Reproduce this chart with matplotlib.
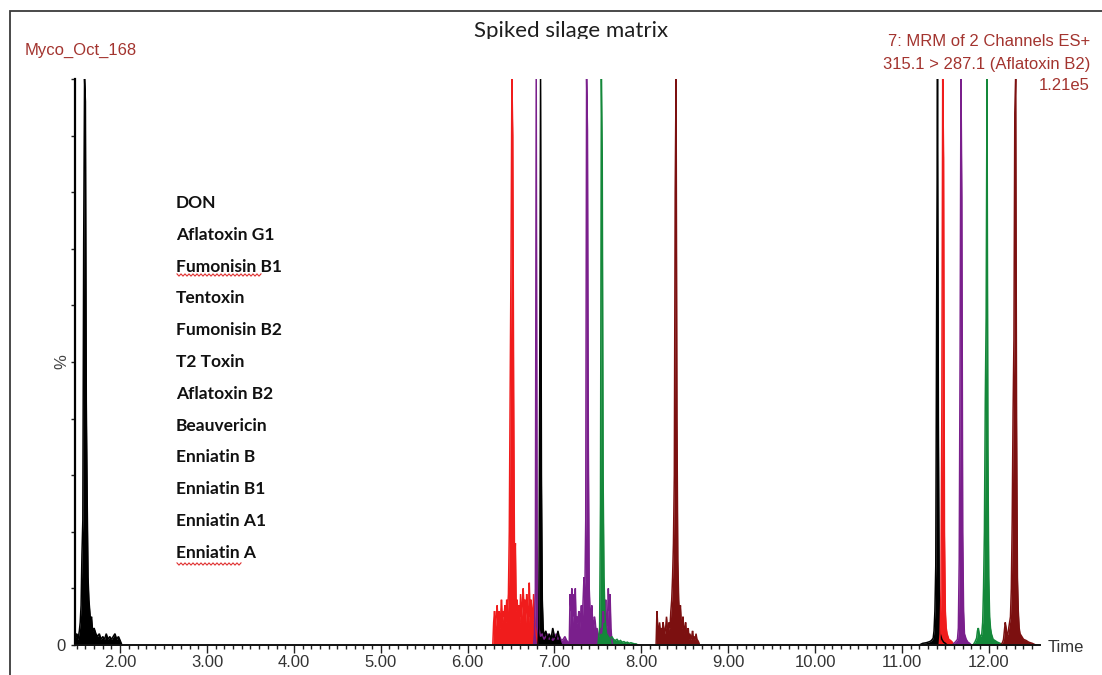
import matplotlib
matplotlib.use("Agg")
import matplotlib.pyplot as plt
from matplotlib.patches import Rectangle
from matplotlib.lines import Line2D
from matplotlib.ticker import MultipleLocator
from matplotlib.transforms import Bbox
import numpy as np

# ---- data (time in min, intensity in %) ----
compounds = ["DON", "Aflatoxin G1", "Fumonisin B1", "Tentoxin", "Fumonisin B2",
             "T2 Toxin", "Aflatoxin B2", "Beauvericin", "Enniatin B",
             "Enniatin B1", "Enniatin A1", "Enniatin A"]
trace_colors = ["#000000", "#f01c1c", "#7a1f8c", "#000000", "#7a1f8c", "#14883a",
                "#7c1010", "#000000", "#f01c1c", "#7a1f8c", "#14883a", "#7c1010"]

don_t = [1.48, 1.49, 1.50, 1.51, 1.52, 1.53, 1.54, 1.55, 1.56, 1.57, 1.58, 1.59,
         1.60, 1.61, 1.62, 1.63, 1.64, 1.65, 1.66, 1.67, 1.68, 1.69, 1.70, 1.72,
         1.74, 1.76, 1.78, 1.80, 1.82, 1.84, 1.86, 1.88, 1.90, 1.92, 1.94, 1.96,
         1.98, 2.00, 2.02]
don_y = [1.0, 1.5, 2.0, 1.0, 1.5, 2.5, 4.0, 7.0, 16, 22, 71, 100, 96, 43, 26, 12,
         8, 6, 4, 5, 3, 2.5, 3, 2, 1.5, 2, 1, 1.5, 1, 2, 1, 1.5, 1, 1.5, 2, 1, 1.5,
         0.8, 0]

afg1_t = [6.29, 6.30, 6.31, 6.32, 6.33, 6.34, 6.35, 6.36, 6.37, 6.38, 6.39, 6.40,
          6.41, 6.42, 6.43, 6.44, 6.45, 6.46, 6.47, 6.48, 6.49, 6.50, 6.51, 6.52,
          6.53, 6.54, 6.55, 6.56, 6.57, 6.58, 6.59, 6.60, 6.61, 6.62, 6.63, 6.64,
          6.65, 6.66, 6.67, 6.68, 6.69, 6.70, 6.71, 6.72, 6.73, 6.74, 6.75, 6.76,
          6.77, 6.78, 6.79, 6.80, 6.81]
afg1_y = [0, 4, 6, 3, 5, 7, 4, 6, 3, 5, 8, 4, 6, 5, 7, 4, 8, 6, 9, 20, 45, 68, 100,
          90, 45, 14, 18, 6, 8, 5, 7, 4, 9, 5, 7, 10, 6, 8, 4, 9, 6, 3, 11, 5, 8, 6,
          4, 9, 5, 3, 2, 1, 0]

fb1_t = [6.76, 6.77, 6.78, 6.79, 6.80, 6.81, 6.82, 6.84, 6.86, 6.88, 6.90, 6.92,
         6.94, 6.96, 6.98, 7.00, 7.02, 7.04, 7.06, 7.08, 7.10, 7.12, 7.14, 7.16, 7.18]
fb1_y = [0, 2, 10, 100, 18, 5, 3, 1.5, 2, 1, 1.5, 2, 1, 1.5, 0.8, 1.2, 2, 1, 1.5,
         0.8, 1, 1.5, 0.8, 0.5, 0]

ten_t = [6.81, 6.82, 6.83, 6.84, 6.85, 6.86, 6.87, 6.88, 6.90, 6.92, 6.94, 6.96,
         6.98, 7.00, 7.02, 7.04, 7.06, 7.08]
ten_y = [0, 3, 45, 100, 30, 8, 3, 1.5, 2.5, 1, 2, 1, 3, 1.5, 1, 2.5, 1, 0]

fb2_t = [7.17, 7.18, 7.19, 7.20, 7.21, 7.22, 7.23, 7.24, 7.25, 7.26, 7.27, 7.28,
         7.29, 7.30, 7.31, 7.32, 7.33, 7.34, 7.35, 7.36, 7.37, 7.38, 7.39, 7.40,
         7.41, 7.42, 7.43, 7.44, 7.45, 7.46, 7.47, 7.48, 7.49, 7.50, 7.51, 7.52,
         7.53, 7.54, 7.55, 7.56, 7.57, 7.58, 7.59, 7.60, 7.61, 7.62, 7.63, 7.64,
         7.65, 7.66, 7.67]
fb2_y = [0, 9, 6, 10, 4, 9, 5, 10, 3, 5, 4, 6, 3, 5, 7, 4, 8, 12, 9, 22, 100, 91,
         35, 10, 6, 5, 7, 4, 3, 5, 4, 2, 3, 2, 1.5, 2, 3, 2, 3, 6, 4, 5, 8, 3, 4,
         10, 6, 9, 3, 1, 0]

t2_t = [7.50, 7.51, 7.52, 7.53, 7.54, 7.55, 7.56, 7.57, 7.58, 7.59, 7.60, 7.62,
        7.64, 7.66, 7.68, 7.70, 7.72, 7.74, 7.76, 7.78, 7.80, 7.82, 7.84, 7.86,
        7.88, 7.90, 7.92, 7.94, 7.96]
t2_y = [0, 1.5, 3, 25, 100, 86, 30, 12, 6, 3, 2, 1.5, 1, 1.5, 1, 0.8, 1, 0.6, 0.8,
        0.5, 0.6, 0.4, 0.5, 0.3, 0.4, 0.3, 0.2, 0.2, 0]

afb2_t = [8.17, 8.18, 8.19, 8.20, 8.21, 8.22, 8.23, 8.24, 8.25, 8.26, 8.27, 8.28,
          8.29, 8.30, 8.31, 8.32, 8.33, 8.34, 8.35, 8.36, 8.37, 8.38, 8.39, 8.40,
          8.41, 8.42, 8.43, 8.44, 8.45, 8.46, 8.47, 8.48, 8.49, 8.50, 8.51, 8.52,
          8.53, 8.54, 8.55, 8.56, 8.57, 8.58, 8.59, 8.60, 8.61, 8.62, 8.63, 8.64,
          8.65, 8.66, 8.67]
afb2_y = [0, 6, 3, 2, 4, 2, 3, 2, 4, 3, 2, 3, 5, 3, 2, 4, 3, 6, 8, 12, 18, 30, 80,
          100, 40, 15, 8, 5, 7, 4, 3, 5, 2, 3, 4, 2, 1.5, 3, 1, 2, 1, 1.5, 2.5, 1,
          1.5, 1, 2, 1, 0.8, 0.5, 0]

bea_t = [11.20, 11.24, 11.28, 11.30, 11.32, 11.34, 11.36, 11.37, 11.38, 11.39,
         11.40, 11.41, 11.42, 11.43, 11.44, 11.46, 11.48, 11.50, 11.52]
bea_y = [0, 0.3, 0.4, 0.5, 0.6, 0.8, 1.2, 2.5, 6, 14, 60, 100, 40, 8, 2, 1, 0.5,
         0.3, 0]

enb_t = [11.43, 11.44, 11.45, 11.46, 11.47, 11.48, 11.49, 11.50, 11.51, 11.52,
         11.54, 11.56, 11.58, 11.60]
enb_y = [0, 2, 10, 42, 100, 86, 20, 6, 3, 2, 1, 0.8, 0.5, 0]

enb1_t = [11.58, 11.60, 11.62, 11.64, 11.65, 11.66, 11.67, 11.68, 11.69, 11.70,
          11.71, 11.72, 11.74, 11.76, 11.78, 11.80]
enb1_y = [0, 0.3, 0.6, 1, 3, 15, 51, 100, 79, 20, 6, 2, 1, 0.5, 0.3, 0]

ena1_t = [11.82, 11.84, 11.86, 11.87, 11.88, 11.89, 11.90, 11.91, 11.92, 11.93,
          11.94, 11.95, 11.96, 11.97, 11.98, 11.99, 12.00, 12.01, 12.02, 12.03,
          12.05, 12.07, 12.10, 12.13, 12.16]
ena1_y = [0, 0.5, 1.2, 2.5, 3, 2, 1.5, 1.5, 2, 4, 10, 20, 43, 58, 100, 35, 12, 5,
          3, 2, 1, 0.8, 0.5, 0.3, 0]

ena_t = [12.14, 12.16, 12.17, 12.18, 12.19, 12.20, 12.21, 12.22, 12.23, 12.24,
         12.25, 12.26, 12.27, 12.28, 12.29, 12.30, 12.31, 12.32, 12.33, 12.34,
         12.35, 12.36, 12.38, 12.40, 12.43, 12.46, 12.50, 12.54]
ena_y = [0, 0.5, 1, 2.5, 4, 3, 1.5, 2, 3, 4, 5, 10, 22, 41, 54, 94, 100, 40, 12, 6,
         3, 2, 1.5, 1, 0.8, 0.5, 0.3, 0]

traces = [(don_t, don_y), (afg1_t, afg1_y), (fb1_t, fb1_y), (ten_t, ten_y),
          (fb2_t, fb2_y), (t2_t, t2_y), (afb2_t, afb2_y), (bea_t, bea_y),
          (enb_t, enb_y), (enb1_t, enb1_y), (ena1_t, ena1_y), (ena_t, ena_y)]

x_major = [2, 3, 4, 5, 6, 7, 8, 9, 10, 11, 12]

# ---- figure ----
W, H = 1102, 675
fig = plt.figure(figsize=(W / 100, H / 100), dpi=100)
fig.patch.set_facecolor("white")

def fx(px):
    return px / W

def fy(py):
    return 1 - py / H

ax = fig.add_axes([fx(75), fy(645), fx(1040) - fx(75), fy(79) - fy(645)])
ax.set_xlim(1.48, 12.59)
ax.set_ylim(0, 100)

for (t, y), c in zip(traces, trace_colors):
    ax.fill_between(t, 0, y, color=c, lw=0, clip_on=False)
    ax.plot(t, y, color=c, lw=1.1, solid_joinstyle="miter", clip_on=False)

tick_col = "#333333"
ax.spines["top"].set_visible(False)
ax.spines["right"].set_visible(False)
ax.spines["left"].set_linewidth(1.6)
ax.spines["bottom"].set_linewidth(1.4)
ax.spines["left"].set_color("black")
ax.spines["bottom"].set_color("#111111")

ax.set_xticks(x_major)
ax.set_xticklabels([f"{v:.2f}" for v in x_major])
ax.xaxis.set_minor_locator(MultipleLocator(0.1))
ax.tick_params(axis="x", which="major", direction="out", length=5.5, width=1.0,
               pad=1.5, labelsize=12, labelcolor=tick_col, color="#222222")
ax.tick_params(axis="x", which="minor", direction="out", length=3, width=1.0,
               color="#222222")

ax.set_yticks(range(0, 101, 10))
ax.set_yticklabels(["0"] + [""] * 10)
ax.tick_params(axis="y", which="major", direction="out", length=3, width=1.0,
               pad=4, labelsize=12, labelcolor=tick_col, color="#222222")
ax.text(-0.014, 0.5, "%", transform=ax.transAxes, rotation=90, ha="center",
        va="center", fontsize=12, color="#444444", family="Liberation Sans")
for lab in ax.get_xticklabels() + ax.get_yticklabels():
    lab.set_family("Liberation Sans")

fig.text(fx(1048), fy(648), "Time", ha="left", va="center", fontsize=12,
         color=tick_col, family="Liberation Sans")

# ---- header texts ----
red_txt = "#a3342f"
fig.text(fx(25), fy(50), "Myco_Oct_168", ha="left", va="center", fontsize=12,
         color=red_txt, family="Liberation Sans")
fig.text(fx(1090), fy(42), "7: MRM of 2 Channels ES+", ha="right", va="center",
         fontsize=12, color=red_txt, family="Liberation Sans")
fig.text(fx(1090), fy(64), "315.1 > 287.1 (Aflatoxin B2)", ha="right",
         va="center", fontsize=12, color=red_txt, family="Liberation Sans")
fig.text(fx(1090), fy(86), "1.21e5", ha="right", va="center", fontsize=12,
         color=red_txt, family="Liberation Sans")

title = fig.text(fx(571), fy(31), "Spiked silage matrix", ha="center",
                 va="center", fontsize=16, color="#1e1e1e", family="Lato")
title.set_clip_box(Bbox.from_extents(0, H - 39, W, H))
title.set_clip_on(True)

# outer frame of the screenshot
fig.add_artist(Rectangle((fx(10), -0.2), 2, fy(11) + 0.2, transform=fig.transFigure,
                         fill=False, edgecolor="#3a3a3a", lw=1.3))

# ---- compound list ----
for i, name in enumerate(compounds):
    fig.text(fx(176), fy(203 + i * 31.8), name, ha="left", va="center",
             fontsize=12.5, fontweight="bold", color="#111111", family="Lato")

# spell-check squiggles under two names
for x0, x1, yy in [(177, 262, 275), (177, 242, 564)]:
    xs = np.arange(x0, x1 + 1, 2)
    ys = yy + np.where(np.arange(len(xs)) % 2 == 0, -1.1, 1.1)
    fig.add_artist(Line2D(fx(xs), fy(ys), transform=fig.transFigure,
                          color="#e03030", lw=0.8))

fig.savefig("out.png", dpi=100, facecolor="white")
